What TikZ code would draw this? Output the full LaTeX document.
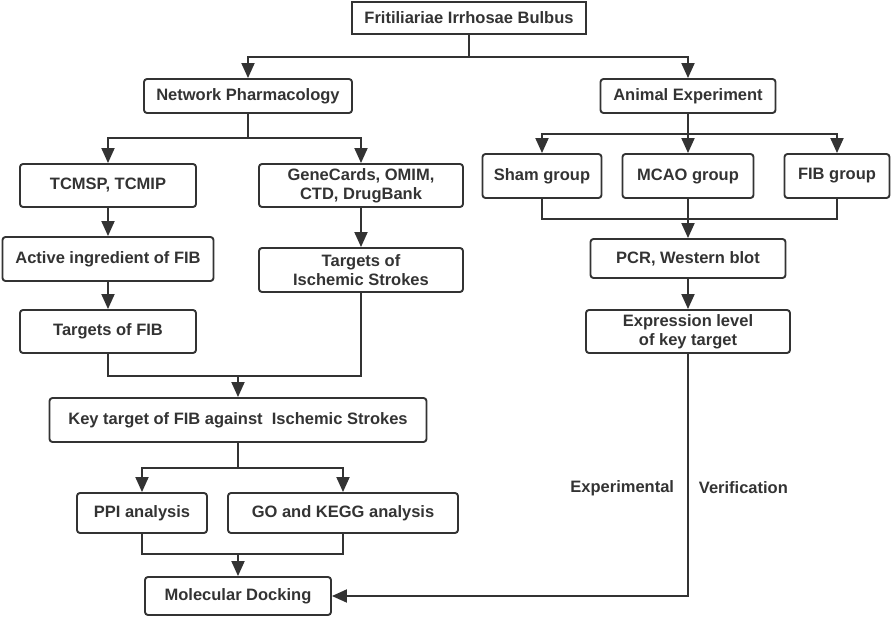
\documentclass[tikz,border=0pt]{standalone}
\usepackage{fontspec}
\setmainfont{Liberation Sans}
\usepackage{tikz}
\usepackage{xcolor}
\usetikzlibrary{positioning,arrows.meta}

\definecolor{ink}{HTML}{333333}

\begin{document}
\begin{tikzpicture}[x=1pt, y=-1pt, line width=1.9pt, draw=ink,
        box/.style={draw=ink, rounded corners=3pt, align=center, inner sep=0pt,
            text=ink, font=\fontsize{16.5}{19}\selectfont\bfseries},
        lbl/.style={text=ink, inner sep=0pt, font=\fontsize{16.5}{19}\selectfont\bfseries},
        arr/.style={-{Triangle[length=15pt, width=13pt]}}]

            \useasboundingbox (0,0) rectangle (892,618);

            \node[box, rounded corners=0pt, minimum width=234pt, minimum height=32pt] (fib) at (469,18) {Fritiliariae Irrhosae Bulbus};

            \node[box, minimum width=208pt, minimum height=34pt] (np) at (248,96) {Network Pharmacology};
            \node[box, minimum width=175pt, minimum height=34pt] (ae) at (688,96) {Animal Experiment};

            % network pharmacology side
            \node[box, minimum width=176pt, minimum height=43pt] (tcm)  at (108,185.5) {TCMSP, TCMIP};
            \node[box, minimum width=204pt, minimum height=43pt] (gene) at (361,185.5) {GeneCards, OMIM,\\CTD, DrugBank};
            \node[box, minimum width=211pt, minimum height=44pt] (act)  at (108,259) {Active ingredient of FIB};
            \node[box, minimum width=204pt, minimum height=44pt] (tis)  at (361,270) {Targets of\\Ischemic Strokes};
            \node[box, minimum width=176pt, minimum height=43pt] (tfib) at (108,331.5) {Targets of FIB};
            \node[box, minimum width=377pt, minimum height=44pt] (key)  at (238,420) {Key target of FIB against\ \ Ischemic Strokes};
            \node[box, minimum width=130pt, minimum height=40pt] (ppi)  at (142,513) {PPI analysis};
            \node[box, minimum width=230pt, minimum height=40pt] (go)   at (343,513) {GO and KEGG analysis};
            \node[box, minimum width=186pt, minimum height=38pt] (md)   at (238,596) {Molecular Docking};

            % animal experiment side
            \node[box, minimum width=119pt, minimum height=44pt] (sham) at (542,176) {Sham group};
            \node[box, minimum width=131pt, minimum height=44pt] (mcao) at (688,176) {MCAO group};
            \node[box, minimum width=105pt, minimum height=44pt] (fibg) at (837,176) {FIB group};
            \node[box, minimum width=195pt, minimum height=39pt] (pcr)  at (688,258.5) {PCR, Western blot};
            \node[box, minimum width=204pt, minimum height=43pt] (expr) at (688,331.5) {Expression level\\of key target};

            \draw (fib.south) -- (fib.south |- 0,57);
            \draw[arr] (fib.south |- 0,57) -| (np.north);
            \draw[arr] (fib.south |- 0,57) -| (ae.north);

            \draw (np.south) -- (np.south |- 0,138);
            \draw[arr] (np.south |- 0,138) -| (tcm.north);
            \draw[arr] (np.south |- 0,138) -| (gene.north);

            \draw[arr] (tcm) -- (act);
            \draw[arr] (act) -- (tfib);
            \draw[arr] (gene) -- (tis);

            \draw (tfib.south) |- (tis.south |- 0,376) -- (tis.south);
            \draw[arr] (key.north |- 0,376) -- (key.north);

            \draw (key.south) -- (key.south |- 0,468);
            \draw[arr] (key.south |- 0,468) -| (ppi.north);
            \draw[arr] (key.south |- 0,468) -| (go.north);

            \draw (ppi.south) |- (go.south |- 0,554) -- (go.south);
            \draw[arr] (md.north |- 0,554) -- (md.north);

            \draw[arr] (ae.south) -- (mcao.north);
            \draw[arr] (ae.south |- 0,134) -| (sham.north);
            \draw[arr] (ae.south |- 0,134) -| (fibg.north);

            \draw (sham.south) |- (fibg.south |- 0,219) -- (fibg.south);
            \draw[arr] (mcao) -- (pcr);
            \draw[arr] (pcr) -- (expr);

            \draw[arr] (expr.south) |- (md.east);
            \coordinate (ev) at (expr.south |- 0,488);
            \node[lbl, left=13pt of ev]  (exl) {Experimental};
            \node[lbl, right=10pt of ev] (ver) {Verification};

        \end{tikzpicture}
\end{document}
